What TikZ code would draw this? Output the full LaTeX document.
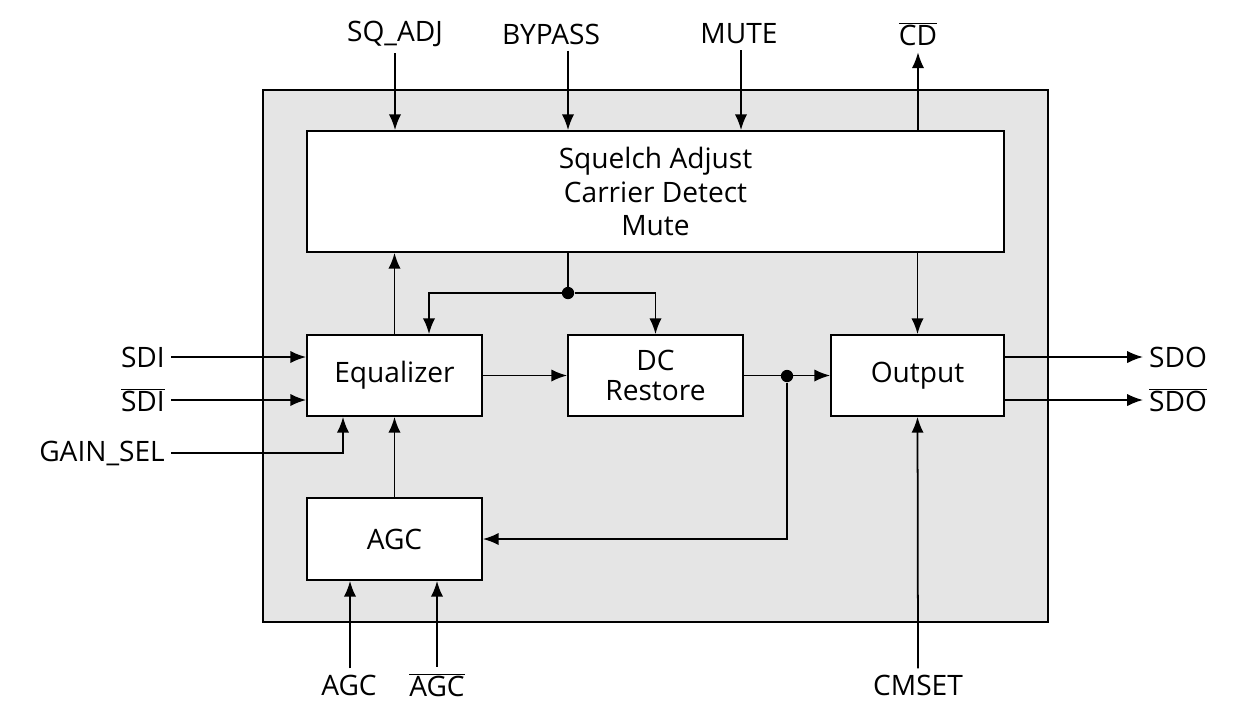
\documentclass[tikz,border=0pt]{standalone}
\usepackage{fontspec}
\setmainfont{Open Sans}
\usetikzlibrary{arrows.meta,positioning,calc}
\tikzset{
  blk/.style={draw,fill=white,line width=1pt,inner sep=0pt},
  lbl/.style={font=\fontsize{16}{19.5}\selectfont},
  sig/.style={line width=1pt,-{Latex[length=9pt,width=7pt]}},
  wire/.style={line width=1pt},
  dot/.style={circle,fill,inner sep=0pt,minimum size=7pt}
}
\newcommand{\negsig}[1]{$\overline{\hbox{#1}}$}
\begin{document}
\begin{tikzpicture}[x=0.02cm,y=-0.02cm]
  \useasboundingbox (0,0) rectangle (1239,717);
  % chip body
  \draw[fill=black!10,line width=1pt] (263,90) rectangle (1048,622);
  % blocks
  \node[blk,lbl,minimum width=697*0.02cm,minimum height=121*0.02cm,align=center] at (655.5,191.5) (SQ) {Squelch Adjust\\[-0.5pt]Carrier Detect\\[-0.5pt]Mute};
  \node[blk,lbl,minimum width=175*0.02cm,minimum height=81*0.02cm] at (394.5,375.5) (EQ) {Equalizer};
  \node[blk,lbl,minimum width=175*0.02cm,minimum height=81*0.02cm,align=center] at (655.5,375.5) (DC) {DC\\[-2pt]Restore};
  \node[blk,lbl,minimum width=173*0.02cm,minimum height=81*0.02cm] at (917.5,375.5) (OUT) {Output};
  \node[blk,lbl,minimum width=175*0.02cm,minimum height=82*0.02cm] at (394.5,539) (AGCB) {AGC};
  % pins
  \node[lbl] at (395,34) (SQADJ) {SQ\_ADJ};
  \node[lbl] at (551,34) (BYP) {BYPASS};
  \node[lbl] at (739,34) (MUTE) {MUTE};
  \node[lbl] at (918,34) (CD) {\negsig{CD}};
  \node[lbl,anchor=east] at (171,357) (SDI) {SDI};
  \node[lbl,anchor=east] at (171,400) (SDIN) {\negsig{SDI}};
  \node[lbl,anchor=east] at (171,453) (GAIN) {GAIN\_SEL};
  \node[lbl,anchor=west] at (1143,357) (SDO) {SDO};
  \node[lbl,anchor=west] at (1143,400) (SDON) {\negsig{SDO}};
  \node[lbl] at (349,685) (AGC) {AGC};
  \node[lbl] at (437,685) (AGCN) {\negsig{AGC}};
  \node[lbl] at (918,685) (CMSET) {CMSET};
  % top inputs
  \draw[sig] (SQADJ.south) -- (SQ.north -| SQADJ);
  \draw[sig] (BYP.south -| 568,0) -- (SQ.north -| 568,0);
  \draw[sig] (MUTE.south -| 741,0) -- (SQ.north -| 741,0);
  \draw[sig] (SQ.north -| CD) -- (CD.south);
  % squelch feedback
  \draw[sig] (EQ.north) -- (SQ.south -| EQ);
  \node[dot] at (568,293) (J1) {};
  \draw[wire] (SQ.south -| J1) -- (J1);
  \draw[sig] (J1) -| (EQ.north -| 429,0);
  \draw[sig] (J1) -| (DC.north);
  \draw[sig] (SQ.south -| OUT) -- (OUT.north);
  % left inputs
  \draw[sig] (SDI.east) -- (SDI.east -| EQ.west);
  \draw[sig] (SDIN.east) -- (SDIN.east -| EQ.west);
  \draw[sig] (GAIN.east) -| (EQ.south -| 343,0);
  % data path
  \draw[sig] (EQ) -- (DC);
  \node[dot] at (787,376) (J2) {};
  \draw[sig] (DC.east) -- (OUT.west);
  \draw[sig] (J2) |- (AGCB.east);
  \draw[sig] (AGCB) -- (EQ);
  % outputs
  \draw[sig] (SDO.west -| OUT.east) -- (SDO.west);
  \draw[sig] (SDON.west -| OUT.east) -- (SDON.west);
  % bottom inputs
  \draw[sig] (AGC.north -| 350,0) -- (AGCB.south -| 350,0);
  \draw[sig] (AGCN.north) -- (AGCB.south -| AGCN);
  \draw[sig] (CMSET.north) -- (OUT.south);
\end{tikzpicture}
\end{document}
